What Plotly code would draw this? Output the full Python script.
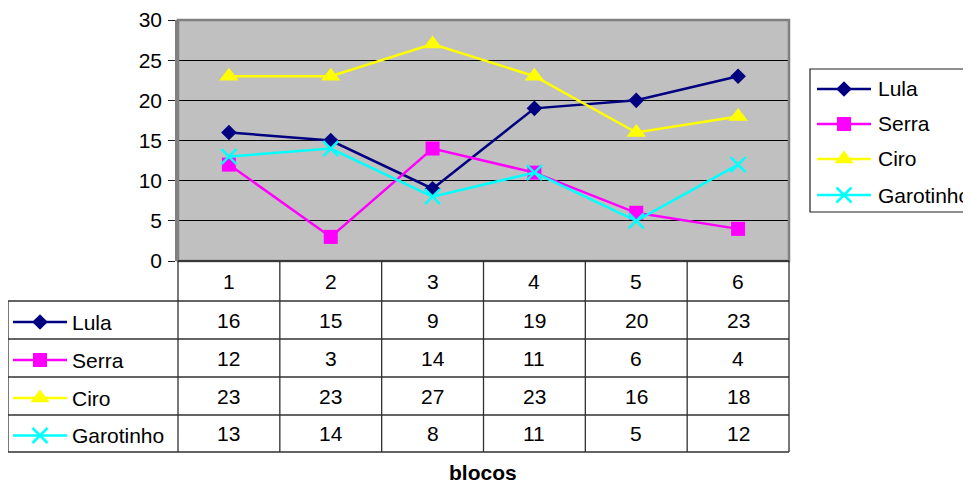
import plotly.graph_objects as go

W, H = 971, 483
blocos = [1, 2, 3, 4, 5, 6]
series_names = ["Lula", "Serra", "Ciro", "Garotinho"]
lula = [16, 15, 9, 19, 20, 23]
serra = [12, 3, 14, 11, 6, 4]
ciro = [23, 23, 27, 23, 16, 18]
garotinho = [13, 14, 8, 11, 5, 12]
y_ticks = [0, 5, 10, 15, 20, 25, 30]
x_title = "blocos"

values = [lula, serra, ciro, garotinho]
colors = ["#000080", "#FF00FF", "#FFFF00", "#00FFFF"]
symbols = ["diamond", "square", "triangle-up", "x-thin"]
msizes = [12, 14, 17, 15]

FONT = "Liberation Sans, Arial, sans-serif"
FS = 21

# page offset (browser body margin)
OFF = 8
# target pixel geometry (screen)
PL, PR, PT, PB = 178, 789, 20, 261
ROWS = [301, 339, 377, 415, 452]
TL = 8

def px(x):
    return (x - OFF) / W

def py(y):
    return 1 - (y - OFF) / H

def marker(s, c, ms):
    mk = dict(symbol=s, size=ms, color=c)
    if s == "x-thin":
        mk["line"] = dict(color=c, width=2.5)
    else:
        mk["line"] = dict(width=0)
    return mk

fig = go.Figure()

for name, vals, c, s, ms in zip(series_names, values, colors, symbols, msizes):
    fig.add_trace(go.Scatter(x=blocos, y=vals, name=name, mode="lines+markers",
                             line=dict(color=c, width=2.5), marker=marker(s, c, ms),
                             cliponaxis=False, showlegend=False,
                             xaxis="x", yaxis="y"))

shapes = []
shapes.append(dict(type="rect", xref="paper", yref="paper", x0=px(PL), x1=px(PR),
                   y0=py(PB), y1=py(PT), fillcolor="#C0C0C0",
                   line=dict(width=0), layer="below"))
shapes.append(dict(type="rect", xref="paper", yref="paper", x0=px(PL), x1=px(PR),
                   y0=py(PB), y1=py(PT), line=dict(color="#808080", width=2.5),
                   layer="above"))
shapes.append(dict(type="line", xref="paper", yref="paper", x0=px(PL), x1=px(PR),
                   y0=py(PB), y1=py(PB), line=dict(color="#202020", width=1.5)))

tcol = "#303030"
colw = (PR - PL) / 6
for k in range(7):
    xk = PL + k * colw
    shapes.append(dict(type="line", xref="paper", yref="paper", x0=px(xk), x1=px(xk),
                       y0=py(PB), y1=py(ROWS[-1]), line=dict(color=tcol, width=1.3)))
for r in ROWS:
    shapes.append(dict(type="line", xref="paper", yref="paper", x0=px(TL), x1=px(PR),
                       y0=py(r), y1=py(r), line=dict(color=tcol, width=1.3)))
shapes.append(dict(type="line", xref="paper", yref="paper", x0=px(TL), x1=px(TL),
                   y0=py(ROWS[0]), y1=py(ROWS[-1]), line=dict(color=tcol, width=1.3)))

LX0, LX1, LY0, LY1 = 810, 972, 69, 212
shapes.append(dict(type="rect", xref="paper", yref="paper", x0=px(LX0), x1=px(LX1),
                   y0=py(LY1), y1=py(LY0), line=dict(color="#202020", width=1.2),
                   fillcolor="white", layer="below"))

def ann(x, y, text, xanchor="center"):
    return dict(x=px(x), y=py(y), xref="paper", yref="paper", text=text,
                showarrow=False, xanchor=xanchor, yanchor="middle",
                font=dict(family=FONT, size=FS, color="black"))

annotations = []
for i, b in enumerate(blocos):
    cx = PL + (i + 0.5) * colw
    annotations.append(ann(cx, 281, str(b)))
    for j, vals in enumerate(values):
        cy = (ROWS[j] + ROWS[j + 1]) / 2
        annotations.append(ann(cx, cy, str(vals[i])))

leg_rows_table = [(ROWS[j] + ROWS[j + 1]) / 2 + 2 for j in range(4)]
leg_rows_right = [89, 124, 159, 195]
for j, (name, c, s, ms) in enumerate(zip(series_names, colors, symbols, msizes)):
    for (x0, x1, xm, xt, yy) in [(13, 67, 40, 70, leg_rows_table[j]),
                                 (817, 871, 844, 876, leg_rows_right[j])]:
        fig.add_trace(go.Scatter(x=[x0, x1], y=[yy, yy], mode="lines",
                                 line=dict(color=c, width=2.5), showlegend=False,
                                 hoverinfo="skip", xaxis="x2", yaxis="y2",
                                 cliponaxis=False))
        fig.add_trace(go.Scatter(x=[xm], y=[yy], mode="markers",
                                 marker=marker(s, c, ms),
                                 showlegend=False, hoverinfo="skip",
                                 xaxis="x2", yaxis="y2", cliponaxis=False))
        annotations.append(ann(xt, yy, name, xanchor="left"))

annotations.append(dict(x=px(483), y=py(472), xref="paper", yref="paper",
                        text="<b>" + x_title + "</b>", showarrow=False,
                        xanchor="center", yanchor="middle",
                        font=dict(family=FONT, size=FS, color="black")))

fig.update_layout(
    width=W, height=H,
    margin=dict(l=0, r=0, t=0, b=0, pad=0, autoexpand=False),
    paper_bgcolor="white",
    plot_bgcolor="rgba(0,0,0,0)",
    showlegend=False,
    xaxis=dict(domain=[px(PL), px(PR)], range=[0.5, 6.5], showticklabels=False,
               showgrid=False, zeroline=False, ticks="", showline=False,
               fixedrange=True),
    yaxis=dict(domain=[py(PB), py(PT)], range=[0, 30], tickvals=y_ticks,
               showgrid=True, gridcolor="#000000", gridwidth=1, zeroline=False,
               ticks="outside", ticklen=7, tickcolor="#202020", tickwidth=1,
               showline=True, linecolor="#808080", linewidth=2.5,
               tickfont=dict(family=FONT, size=FS, color="black"),
               ticklabelstandoff=2, fixedrange=True),
    xaxis2=dict(domain=[0, 1], range=[OFF, OFF + W], visible=False,
                fixedrange=True, anchor="y2"),
    yaxis2=dict(domain=[0, 1], range=[OFF + H, OFF], visible=False,
                fixedrange=True, anchor="x2"),
    shapes=shapes,
    annotations=annotations,
)

fig.write_html("out.html")
